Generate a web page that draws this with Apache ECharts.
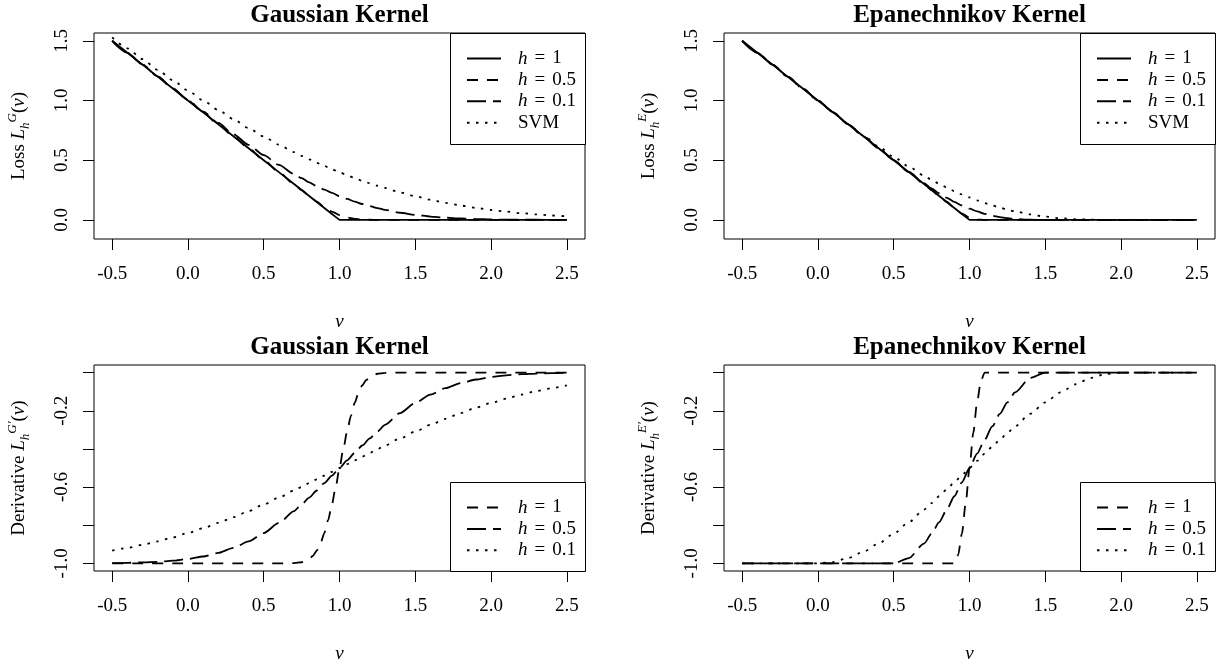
<!DOCTYPE html>
<html>
<head>
<meta charset="utf-8">
<title>Smoothed hinge loss</title>
<script src="https://cdn.jsdelivr.net/npm/echarts@6/dist/echarts.min.js"></script>
<style>
  html, body { margin: 0; padding: 0; background: #fff; }
  #chart { width: 1225px; height: 664px; }
</style>
</head>
<body>
<div id="chart"></div>
<script>
// sample positions of v
const xs = [-0.5, -0.4, -0.3, -0.2, -0.1, 0, 0.1, 0.2, 0.3, 0.4, 0.5, 0.6, 0.7,
  0.75, 0.8, 0.85, 0.9, 0.95, 1, 1.05, 1.1, 1.15, 1.2, 1.25, 1.3,
  1.4, 1.5, 1.6, 1.7, 1.8, 1.9, 2, 2.1, 2.2, 2.3, 2.4, 2.5]
// finer positions for the steep curves
const xsFine = [-0.5, -0.3, -0.1, 0.1, 0.3, 0.5, 0.6, 0.7, 0.75, 0.8,
  0.825, 0.85, 0.875, 0.9, 0.925, 0.95, 0.975, 1,
  1.025, 1.05, 1.075, 1.1, 1.125, 1.15, 1.175, 1.2,
  1.25, 1.3, 1.4, 1.5, 1.7, 1.9, 2.1, 2.3, 2.5]

// Gaussian kernel - loss
const lossG_h1 = [1.5, 1.4, 1.3, 1.2, 1.1, 1.0, 0.9, 0.8, 0.7, 0.6, 0.5, 0.4, 0.3,
  0.25, 0.2, 0.15, 0.1, 0.05, 0, 0, 0, 0, 0, 0, 0,
  0, 0, 0, 0, 0, 0, 0, 0, 0, 0, 0, 0]
const lossG_h05 = [1.5, 1.4, 1.3, 1.2, 1.1, 1.0, 0.9, 0.8, 0.7, 0.6, 0.5, 0.4, 0.3,
  0.25, 0.201, 0.153, 0.108, 0.07, 0.04, 0.02, 0.008, 0.003, 0.001, 0, 0,
  0, 0, 0, 0, 0, 0, 0, 0, 0, 0, 0, 0]
const lossG_h01 = [1.5, 1.4, 1.301, 1.201, 1.102, 1.004, 0.907, 0.812, 0.718, 0.628, 0.542, 0.46, 0.384,
  0.349, 0.315, 0.283, 0.253, 0.226, 0.199, 0.176, 0.153, 0.133, 0.115, 0.099, 0.084,
  0.06, 0.042, 0.028, 0.018, 0.012, 0.007, 0.004, 0.002, 0.001, 0.001, 0, 0]
const lossG_svm = [1.529, 1.437, 1.346, 1.256, 1.169, 1.083, 1.0, 0.92, 0.843, 0.769, 0.698, 0.63, 0.567,
  0.536, 0.507, 0.478, 0.451, 0.424, 0.399, 0.374, 0.351, 0.328, 0.307, 0.286, 0.267,
  0.23, 0.198, 0.169, 0.143, 0.12, 0.1, 0.083, 0.069, 0.056, 0.046, 0.037, 0.029]

// Epanechnikov kernel - loss
const lossE_h1 = [1.5, 1.4, 1.3, 1.2, 1.1, 1.0, 0.9, 0.8, 0.7, 0.6, 0.5, 0.4, 0.3,
  0.25, 0.2, 0.15, 0.1, 0.05, 0, 0, 0, 0, 0, 0, 0,
  0, 0, 0, 0, 0, 0, 0, 0, 0, 0, 0, 0]
const lossE_h05 = [1.5, 1.4, 1.3, 1.2, 1.1, 1.0, 0.9, 0.8, 0.7, 0.6, 0.5, 0.4, 0.3,
  0.25, 0.2, 0.15, 0.1, 0.053, 0.019, 0.003, 0, 0, 0, 0, 0,
  0, 0, 0, 0, 0, 0, 0, 0, 0, 0, 0, 0]
const lossE_h01 = [1.5, 1.4, 1.3, 1.2, 1.1, 1.0, 0.9, 0.8, 0.7, 0.6, 0.5, 0.401, 0.307,
  0.264, 0.223, 0.185, 0.151, 0.121, 0.094, 0.071, 0.051, 0.035, 0.023, 0.014, 0.007,
  0.001, 0, 0, 0, 0, 0, 0, 0, 0, 0, 0, 0]
const lossE_svm = [1.5, 1.4, 1.3, 1.2, 1.1, 1.0, 0.9, 0.802, 0.706, 0.614, 0.527, 0.446, 0.371,
  0.336, 0.302, 0.271, 0.241, 0.213, 0.188, 0.163, 0.141, 0.121, 0.102, 0.086, 0.071,
  0.046, 0.027, 0.014, 0.006, 0.002, 0, 0, 0, 0, 0, 0, 0]

// Gaussian kernel - derivative
const derivG_h1 = [-1, -1, -1, -1, -1, -1, -1, -0.999, -0.994, -0.977,
  -0.96, -0.933, -0.894, -0.841, -0.773, -0.691, -0.599, -0.5,
  -0.401, -0.309, -0.227, -0.159, -0.106, -0.067, -0.04, -0.023,
  -0.006, -0.001, 0, 0, 0, 0, 0, 0, 0]   // on xsFine
const derivG_h05 = [-0.999, -0.997, -0.995, -0.992, -0.986, -0.977, -0.964, -0.945, -0.919, -0.885, -0.841, -0.788, -0.726,
  -0.691, -0.655, -0.618, -0.579, -0.54, -0.5, -0.46, -0.421, -0.382, -0.345, -0.309, -0.274,
  -0.212, -0.159, -0.115, -0.081, -0.055, -0.036, -0.023, -0.014, -0.008, -0.005, -0.003, -0.001]
const derivG_h01 = [-0.933, -0.919, -0.903, -0.885, -0.864, -0.841, -0.816, -0.788, -0.758, -0.726, -0.691, -0.655, -0.618,
  -0.599, -0.579, -0.56, -0.54, -0.52, -0.5, -0.48, -0.46, -0.44, -0.421, -0.401, -0.382,
  -0.345, -0.309, -0.274, -0.242, -0.212, -0.184, -0.159, -0.136, -0.115, -0.097, -0.081, -0.067]

// Epanechnikov kernel - derivative
const derivE_h1 = [-1, -1, -1, -1, -1, -1, -1, -1, -1, -1,
  -1, -1, -1, -1, -0.957, -0.844, -0.684, -0.5,
  -0.316, -0.156, -0.043, 0, 0, 0, 0, 0,
  0, 0, 0, 0, 0, 0, 0, 0, 0]   // on xsFine
const derivE_h05 = [-1, -1, -1, -1, -1, -1, -1, -1, -1, -1, -1, -0.972, -0.896,
  -0.844, -0.784, -0.718, -0.648, -0.575, -0.5, -0.425, -0.352, -0.282, -0.216, -0.156, -0.104,
  -0.028, 0, 0, 0, 0, 0, 0, 0, 0, 0, 0, 0]
const derivE_h01 = [-1, -1, -1, -1, -1, -1, -0.993, -0.972, -0.939, -0.896, -0.844, -0.784, -0.718,
  -0.684, -0.648, -0.612, -0.575, -0.537, -0.5, -0.463, -0.425, -0.388, -0.352, -0.316, -0.282,
  -0.216, -0.156, -0.104, -0.061, -0.028, -0.007, 0, 0, 0, 0, 0, 0]

// tick values
const xTicks = [-0.5, 0, 0.5, 1, 1.5, 2, 2.5]
const lossTicks = [0, 0.5, 1, 1.5]
const derivTicks = [-1, -0.8, -0.6, -0.4, -0.2, 0]
const derivLabels = [-1, -0.6, -0.2]

const FONT = 'Liberation Serif'
const pair = (x, y) => x.map((v, i) => [v, y[i]])

// 线型: R lty 1 / 2 / 5 / 3
const SOLID = 'solid'
const DASH = [11, 9]
const LONGDASH = [19, 7]
const DOT = [2.5, 6.5]

const legendText = {
  L1: '{it|h}{eq|=}{rm|1}',
  L05: '{it|h}{eq|=}{rm|0.5}',
  L01: '{it|h}{eq|=}{rm|0.1}',
  SVM: '{rm0|SVM}',
  D1: '{it|h}{eq|=}{rm|1}',
  D05: '{it|h}{eq|=}{rm|0.5}',
  D01: '{it|h}{eq|=}{rm|0.1}'
}

const textRich = {
  it: { fontFamily: FONT, fontSize: 19, fontStyle: 'italic', color: '#000', padding: [0, 0, 0, 12], lineHeight: 14 },
  eq: { fontFamily: FONT, fontSize: 19, color: '#000', padding: [0, 7, 0, 7], lineHeight: 14 },
  rm: { fontFamily: FONT, fontSize: 19, color: '#000', lineHeight: 14 },
  rm0: { fontFamily: FONT, fontSize: 19, color: '#000', padding: [0, 0, 0, 12], lineHeight: 14 }
}

const nameRich = {
  rm: { fontFamily: FONT, fontSize: 19, color: '#000', lineHeight: 26 },
  it: { fontFamily: FONT, fontSize: 19, fontStyle: 'italic', color: '#000', lineHeight: 26 },
  sub: { fontFamily: FONT, fontSize: 13, fontStyle: 'italic', color: '#000', lineHeight: 26, verticalAlign: 'bottom' },
  sup: { fontFamily: FONT, fontSize: 13, fontStyle: 'italic', color: '#000', lineHeight: 26, verticalAlign: 'top' }
}

// panel boxes
const panels = [
  { left: 94, top: 33, title: 'Gaussian Kernel', yMin: -0.16, yMax: 1.565, ticks: lossTicks, labels: lossTicks,
    yName: '{rm|Loss }{it|L}{sub|h}{sup|G}{rm|(}{it|v}{rm|)}' },
  { left: 724, top: 33, title: 'Epanechnikov Kernel', yMin: -0.16, yMax: 1.565, ticks: lossTicks, labels: lossTicks,
    yName: '{rm|Loss }{it|L}{sub|h}{sup|E}{rm|(}{it|v}{rm|)}' },
  { left: 94, top: 365, title: 'Gaussian Kernel', yMin: -1.04, yMax: 0.04, ticks: derivTicks, labels: derivLabels,
    yName: '{rm|Derivative }{it|L}{sub|h}{sup|G′}{rm|(}{it|v}{rm|)}' },
  { left: 724, top: 365, title: 'Epanechnikov Kernel', yMin: -1.04, yMax: 0.04, ticks: derivTicks, labels: derivLabels,
    yName: '{rm|Derivative }{it|L}{sub|h}{sup|E′}{rm|(}{it|v}{rm|)}' }
]
const boxW = 491
const boxH = 206

function line(idx, name, data, type, smooth) {
  return {
    type: 'line',
    name: name,
    xAxisIndex: idx,
    yAxisIndex: idx,
    data: data,
    symbol: 'none',
    smooth: smooth ? 0.25 : false,
    smoothMonotone: 'x',
    silent: true,
    lineStyle: { color: '#000', width: 1.8, type: type },
    itemStyle: { color: '#000' }
  }
}

const series = [
  line(0, 'L1', pair(xs, lossG_h1), SOLID, false),
  line(0, 'L05', pair(xs, lossG_h05), DASH, true),
  line(0, 'L01', pair(xs, lossG_h01), LONGDASH, true),
  line(0, 'SVM', pair(xs, lossG_svm), DOT, true),
  line(1, 'L1', pair(xs, lossE_h1), SOLID, false),
  line(1, 'L05', pair(xs, lossE_h05), DASH, true),
  line(1, 'L01', pair(xs, lossE_h01), LONGDASH, true),
  line(1, 'SVM', pair(xs, lossE_svm), DOT, true),
  line(2, 'D1', pair(xsFine, derivG_h1), DASH, true),
  line(2, 'D05', pair(xs, derivG_h05), LONGDASH, true),
  line(2, 'D01', pair(xs, derivG_h01), DOT, true),
  line(3, 'D1', pair(xsFine, derivE_h1), DASH, true),
  line(3, 'D05', pair(xs, derivE_h05), LONGDASH, true),
  line(3, 'D01', pair(xs, derivE_h01), DOT, true)
]

const axisText = { fontFamily: FONT, fontSize: 19, color: '#000' }

const option = {
  animation: false,
  backgroundColor: '#fff',
  title: panels.map(p => ({
    text: p.title,
    left: p.left + boxW / 2,
    top: p.top - 30,
    textAlign: 'center',
    padding: 0,
    textStyle: { fontFamily: FONT, fontWeight: 'bold', fontSize: 25, color: '#000' }
  })),
  grid: panels.map(p => ({
    left: p.left, top: p.top, width: boxW, height: boxH,
    show: true, borderColor: '#000', borderWidth: 1,
    backgroundColor: 'transparent',
    outerBoundsMode: 'none'
  })),
  xAxis: panels.map((p, i) => ({
    type: 'value', gridIndex: i, min: -0.62, max: 2.62,
    name: '{it|v}', nameLocation: 'middle', nameGap: 70,
    nameTextStyle: { rich: nameRich },
    axisLine: { show: false, onZero: false },
    splitLine: { show: false },
    axisTick: { show: true, inside: false, length: 11, customValues: xTicks, lineStyle: { color: '#000' } },
    axisLabel: Object.assign({ margin: 26, customValues: xTicks, formatter: v => v.toFixed(1) }, axisText)
  })),
  yAxis: panels.map((p, i) => ({
    type: 'value', gridIndex: i, min: p.yMin, max: p.yMax,
    name: p.yName, nameLocation: 'middle', nameGap: 62, nameRotate: 90,
    nameTextStyle: { rich: nameRich },
    axisLine: { show: false, onZero: false },
    splitLine: { show: false },
    axisTick: { show: true, inside: false, length: 11, customValues: p.ticks, lineStyle: { color: '#000' } },
    axisLabel: Object.assign({ margin: 22, rotate: 90, customValues: p.labels, formatter: v => v.toFixed(1) }, axisText)
  })),
  legend: [
    { left: 450, top: 33, names: ['L1', 'L05', 'L01', 'SVM'] },
    { left: 1080, top: 33, names: ['L1', 'L05', 'L01', 'SVM'] },
    { left: 450, top: 482, names: ['D1', 'D05', 'D01'] },
    { left: 1080, top: 482, names: ['D1', 'D05', 'D01'] }
  ].map(l => ({
    orient: 'vertical',
    left: l.left,
    top: l.top,
    padding: [16, 0, 0, 16],
    itemWidth: 34,
    itemHeight: 14,
    itemGap: 2.4,
    selectedMode: false,
    data: l.names,
    itemStyle: { color: 'transparent', borderWidth: 0, opacity: 0 },
    formatter: n => legendText[n],
    textStyle: { rich: textRich }
  })),
  // legend frames
  graphic: [
    { type: 'rect', z: 3, shape: { x: 450.5, y: 33.5, width: 135, height: 111 }, style: { fill: '#fff', stroke: '#000', lineWidth: 1 } },
    { type: 'rect', z: 3, shape: { x: 1080.5, y: 33.5, width: 135, height: 111 }, style: { fill: '#fff', stroke: '#000', lineWidth: 1 } },
    { type: 'rect', z: 3, shape: { x: 450.5, y: 482.5, width: 135, height: 89 }, style: { fill: '#fff', stroke: '#000', lineWidth: 1 } },
    { type: 'rect', z: 3, shape: { x: 1080.5, y: 482.5, width: 135, height: 89 }, style: { fill: '#fff', stroke: '#000', lineWidth: 1 } }
  ],
  series: series
}

const chart = echarts.init(document.getElementById('chart'), null, { renderer: 'canvas' })
chart.setOption(option)
</script>
</body>
</html>
